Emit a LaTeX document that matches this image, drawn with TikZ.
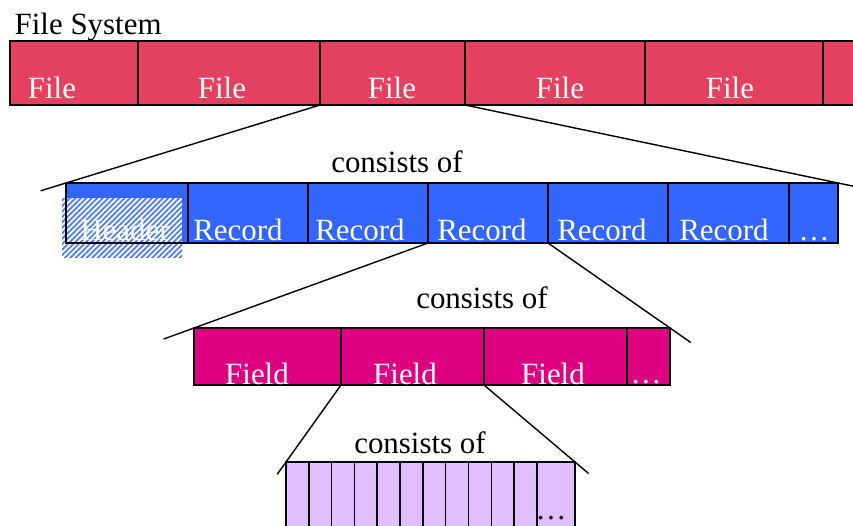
\documentclass[tikz,border=0pt]{standalone}
\usepackage{fontspec}
\setmainfont{Liberation Serif}
\usetikzlibrary{calc,patterns.meta}
\definecolor{fileRed}{RGB}{228,64,96}
\definecolor{recordBlue}{RGB}{51,102,255}
\definecolor{fieldPink}{RGB}{221,0,128}
\definecolor{byteLilac}{RGB}{225,190,255}
\definecolor{hatchBlue}{RGB}{77,122,255}
\def\u{0.02cm}

\begin{document}
\begin{tikzpicture}[x=0.02cm, y=-0.02cm, line width=0.8pt,
  every node/.style={font=\fontsize{17.6}{20}\selectfont},
  cell/.style={draw=black, inner sep=0pt, outer sep=0pt, anchor=north west},
  lbl/.style={anchor=base, text=white, inner sep=0pt},
  say/.style={anchor=base, inner sep=0pt}]
\clip (0,0) rectangle (853,525);
%
% file system row
\node[say, anchor=base west] (title) at (14,34) {File System};
\node[cell, fill=fileRed, minimum width=128*\u, minimum height=64*\u] (f1) at (10,41) {};
\node[cell, fill=fileRed, minimum width=182*\u, minimum height=64*\u] (f2) at (138,41) {};
\node[cell, fill=fileRed, minimum width=145*\u, minimum height=64*\u] (f3) at (320,41) {};
\node[cell, fill=fileRed, minimum width=180*\u, minimum height=64*\u] (f4) at (465,41) {};
\node[cell, fill=fileRed, minimum width=178*\u, minimum height=64*\u] (f5) at (645,41) {};
\node[cell, fill=fileRed, minimum width=60*\u, minimum height=64*\u] (f6) at (823,41) {};
\node[lbl] at (52,98) {File};
\node[lbl] at (222,98) {File};
\node[lbl] at (392,98) {File};
\node[lbl] at (560,98) {File};
\node[lbl] at (730,98) {File};
%
% records
\node[say] (c1) at (397,172) {consists of};
\node[cell, fill=recordBlue, minimum width=122*\u, minimum height=60*\u] (hd) at (66,183) {};
\node[cell, fill=recordBlue, minimum width=120*\u, minimum height=60*\u] (r1) at (188,183) {};
\node[cell, fill=recordBlue, minimum width=120*\u, minimum height=60*\u] (r2) at (308,183) {};
\node[cell, fill=recordBlue, minimum width=120*\u, minimum height=60*\u] (r3) at (428,183) {};
\node[cell, fill=recordBlue, minimum width=120*\u, minimum height=60*\u] (r4) at (548,183) {};
\node[cell, fill=recordBlue, minimum width=121*\u, minimum height=60*\u] (r5) at (668,183) {};
\node[cell, fill=recordBlue, minimum width=49*\u, minimum height=60*\u] (r6) at (789,183) {};
%\draw[pattern=north east lines] (62,198) rectangle (182,257);
\fill[white] (62,198) rectangle (182,257);
\fill[pattern={Lines[angle=45,distance=2.2pt,line width=1pt]}, pattern color=hatchBlue] (62,198) rectangle (182,257);
\draw (hd.north west) rectangle (hd.south east);
\node[lbl] at (125,240) {Header};
\node[lbl] at (238,240) {Record};
\node[lbl] at (360,240) {Record};
\node[lbl] at (482,240) {Record};
\node[lbl] at (602,240) {Record};
\node[lbl] at (724,240) {Record};
\node[lbl] at (814,240) {\dots};
%
% fields
\node[say] (c2) at (482,308) {consists of};
\node[cell, fill=fieldPink, minimum width=147*\u, minimum height=57*\u] (d1) at (194,328) {};
\node[cell, fill=fieldPink, minimum width=143*\u, minimum height=57*\u] (d2) at (341,328) {};
\node[cell, fill=fieldPink, minimum width=143*\u, minimum height=57*\u] (d3) at (484,328) {};
\node[cell, fill=fieldPink, minimum width=43*\u, minimum height=57*\u] (d4) at (627,328) {};
\node[lbl] at (257,384) {Field};
\node[lbl] at (405,384) {Field};
\node[lbl] at (553,384) {Field};
\node[lbl] at (646,383) {\dots};
%
% bytes
\node[say] (c3) at (420,453) {consists of};
\foreach \i [evaluate=\i as \bx using 286+(\i-1)*22.8] in {1,...,11}
  \node[cell, fill=byteLilac, minimum width=22.8*\u, minimum height=80*\u] (b\i) at (\bx,462) {};
\node[cell, fill=byteLilac, minimum width=38*\u, minimum height=80*\u] (b12) at (537,462) {};
\node[say] at (551,519) {\dots};
%
% connectors
\draw (f3.south west) -- ($(f3.south west)!1.1!(hd.north west)$);
\draw (f3.south east) -- ($(f3.south east)!1.1!(r6.north east)$);
\draw (r3.south west) -- ($(r3.south west)!1.13!(d1.north west)$);
\draw (r3.south east) -- ($(r3.south east)!1.17!(d4.north east)$);
\draw (d2.south west) -- ($(d2.south west)!1.16!(b1.north west)$);
\draw (d2.south east) -- ($(d2.south east)!1.15!(b12.north east)$);
\end{tikzpicture}
\end{document}
